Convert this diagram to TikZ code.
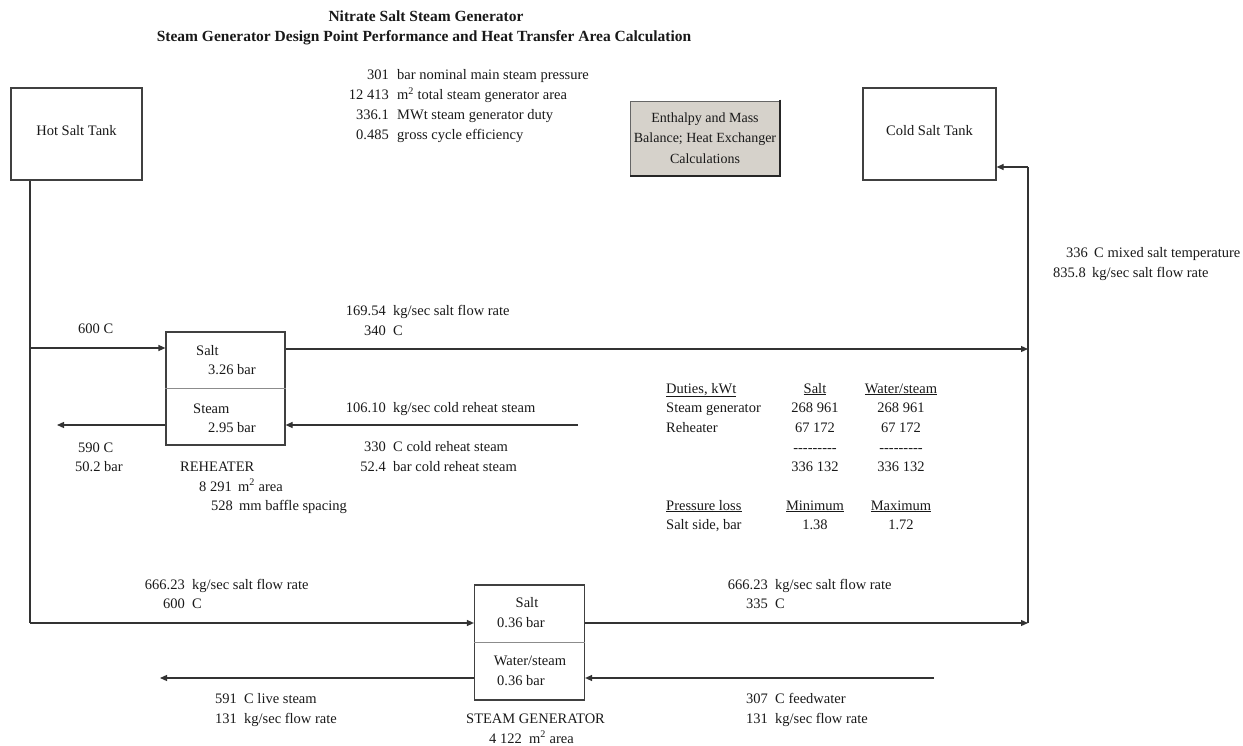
\documentclass[tikz,border=0pt]{standalone}
\usepackage{fontspec}
\setmainfont{Liberation Serif}
\usetikzlibrary{arrows.meta}
\newcommand\hy{-\kern0pt}
\newcommand\dashrow{\hy\hy\hy\hy\hy\hy\hy\hy\hy}
\begin{document}
\begin{tikzpicture}[x=1pt,y=-1pt,
  every node/.style={font=\fontsize{14.5}{17}\selectfont, inner sep=0pt, text=black!90},
  lbl/.style={anchor=base west},
  num/.style={anchor=base east},
  ctr/.style={anchor=base},
  ttl/.style={anchor=base, font=\bfseries\fontsize{15.5}{18}\selectfont},
  tank/.style={draw=black!75, line width=1.2pt, fill=white},
  hx/.style={draw=black!75, line width=1.2pt, fill=white},
  pipe/.style={draw=black!80, line width=1.2pt},
  flow/.style={pipe, -{Triangle[length=7pt,width=6pt]}},
]
\useasboundingbox (0,0) rectangle (1243,746);

% headings
\node[ttl] (title1) at (426,22) {Nitrate Salt Steam Generator};
\node[ttl] (title2) at (424,42) {Steam Generator Design Point Performance and Heat Transfer Area Calculation};

% summary figures
\node[num] (s1n) at (389,80) {301};
\node[lbl] (s1t) at (397,80) {bar nominal main steam pressure};
\node[num] (s2n) at (389,100) {12 413};
\node[lbl] (s2t) at (397,100) {m\textsuperscript{2} total steam generator area};
\node[num] (s3n) at (389,120) {336.1};
\node[lbl] (s3t) at (397,120) {MWt steam generator duty};
\node[num] (s4n) at (389,140) {0.485};
\node[lbl] (s4t) at (397,140) {gross cycle efficiency};

% tanks and calculation block
\node[tank, minimum width=131pt, minimum height=92pt] (hot) at (76.5,134) {\raisebox{7pt}{Hot Salt Tank}};
\node[tank, minimum width=133pt, minimum height=92pt] (cold) at (929.5,134) {\raisebox{7pt}{Cold Salt Tank}};
\node[draw=black!60, line width=0.6pt, fill={rgb,255:red,214;green,210;blue,203}, minimum width=150pt, minimum height=74pt, align=center, font=\fontsize{14}{20.5}\selectfont] (calc) at (705,138) {Enthalpy and Mass\\Balance; Heat Exchanger\\Calculations};
\draw[black!85, line width=2pt] ([yshift=1pt]calc.north east) -- ([yshift=-0.5pt]calc.south east) -- ([yshift=-0.5pt]calc.south west);

% junction points on the salt headers
\coordinate (j1) at (30,348);
\coordinate (j2) at (30,623);
\coordinate (m0) at (1028,167);
\coordinate (m1) at (1028,349);
\coordinate (m2) at (1028,623);

% reheater
\node[hx, minimum width=119pt, minimum height=113pt] (rh) at (225.5,388.5) {};
\draw[black!45, line width=0.8pt] (rh.west) -- (rh.east);
\node[lbl] (rhs) at (196,355) {Salt};
\node[lbl] (rhsp) at (208,374) {3.26 bar};
\node[lbl] (rhw) at (193,413) {Steam};
\node[lbl] (rhwp) at (208,432) {2.95 bar};

% steam generator
\node[hx, minimum width=110pt, minimum height=115pt] (sg) at (529.5,642.5) {};
\draw[black!45, line width=0.8pt] (sg.west) -- (sg.east);
\node[ctr] (sgs) at (527,607) {Salt};
\node[lbl] (sgsp) at (497,627) {0.36 bar};
\node[ctr] (sgw) at (530,665) {Water/steam};
\node[lbl] (sgwp) at (497,685) {0.36 bar};

% salt circuit
\draw[pipe] (hot.south -| j1) -- (j2);
\draw[flow] (j1) -- (rh.west |- j1);
\draw[flow] (rh.east |- m1) -- (m1);
\draw[flow] (j2) -- (sg.west |- j2);
\draw[flow] (sg.east |- m2) -- (m2);
\draw[pipe] (m2) -- (m0);
\draw[flow] (m0) -- (cold.east |- m0);

% steam circuit
\coordinate (crh) at (578,425);
\coordinate (hrh) at (57,425);
\coordinate (fw) at (934,678);
\coordinate (ls) at (160,678);
\draw[flow] (crh) -- (rh.east |- crh);
\draw[flow] (rh.west |- crh) -- (hrh);
\draw[flow] (fw) -- (sg.east |- fw);
\draw[flow] (sg.west |- fw) -- (ls);

% reheater stream data
\node[lbl] (l600a) at (78,334) {600 C};
\node[num] (l169n) at (386,316) {169.54};
\node[lbl] (l169t) at (393,316) {kg/sec salt flow rate};
\node[num] (l340n) at (386,335) {340};
\node[lbl] (l340t) at (393,335) {C};
\node[num] (l106n) at (386,412) {106.10};
\node[lbl] (l106t) at (393,412) {kg/sec cold reheat steam};
\node[num] (l330n) at (386,451) {330};
\node[lbl] (l330t) at (393,451) {C cold reheat steam};
\node[num] (l524n) at (386,471) {52.4};
\node[lbl] (l524t) at (393,471) {bar cold reheat steam};
\node[lbl] (l590) at (78,452) {590 C};
\node[lbl] (l502) at (75,471) {50.2 bar};
\node[lbl] (rhname) at (180,471) {REHEATER};
\node[num] (rhan) at (232,491) {8 291};
\node[lbl] (rhat) at (238,491) {m\textsuperscript{2} area};
\node[num] (rhbn) at (233,510) {528};
\node[lbl] (rhbt) at (239,510) {mm baffle spacing};

% mixed salt data
\node[num] (mxn) at (1088,258) {336};
\node[lbl] (mxt) at (1094,258) {C mixed salt temperature};
\node[num] (mfn) at (1086,277) {835.8};
\node[lbl] (mft) at (1092,277) {kg/sec salt flow rate};

% duty and pressure loss table
\node[lbl] (d0) at (666,393) {\underline{Duties, kWt}};
\node[ctr] (d1) at (815,393) {\underline{Salt}};
\node[ctr] (d2) at (901,393) {\underline{Water/steam}};
\node[lbl] (d3) at (666,412) {Steam generator};
\node[ctr] (d4) at (815,412) {268 961};
\node[ctr] (d5) at (901,412) {268 961};
\node[lbl] (d6) at (666,432) {Reheater};
\node[ctr] (d7) at (815,432) {67 172};
\node[ctr] (d8) at (901,432) {67 172};
\node[ctr] (d9) at (815,452) {\dashrow};
\node[ctr] (d10) at (901,452) {\dashrow};
\node[ctr] (d11) at (815,471) {336 132};
\node[ctr] (d12) at (901,471) {336 132};
\node[lbl] (p0) at (666,510) {\underline{Pressure loss}};
\node[ctr] (p1) at (815,510) {\underline{Minimum}};
\node[ctr] (p2) at (901,510) {\underline{Maximum}};
\node[lbl] (p3) at (666,529) {Salt side, bar};
\node[ctr] (p4) at (815,529) {1.38};
\node[ctr] (p5) at (901,529) {1.72};

% steam generator stream data
\node[num] (a1n) at (185,589) {666.23};
\node[lbl] (a1t) at (192,589) {kg/sec salt flow rate};
\node[num] (a2n) at (185,608) {600};
\node[lbl] (a2t) at (192,608) {C};
\node[num] (b1n) at (768,589) {666.23};
\node[lbl] (b1t) at (775,589) {kg/sec salt flow rate};
\node[num] (b2n) at (768,608) {335};
\node[lbl] (b2t) at (775,608) {C};
\node[num] (c1n) at (768,703) {307};
\node[lbl] (c1t) at (775,703) {C feedwater};
\node[num] (c2n) at (768,723) {131};
\node[lbl] (c2t) at (775,723) {kg/sec flow rate};
\node[num] (e1n) at (237,703) {591};
\node[lbl] (e1t) at (244,703) {C live steam};
\node[num] (e2n) at (237,723) {131};
\node[lbl] (e2t) at (244,723) {kg/sec flow rate};
\node[lbl] (sgname) at (466,723) {STEAM GENERATOR};
\node[num] (sgan) at (522,743) {4 122};
\node[lbl] (sgat) at (529,743) {m\textsuperscript{2} area};
\end{tikzpicture}
\end{document}
